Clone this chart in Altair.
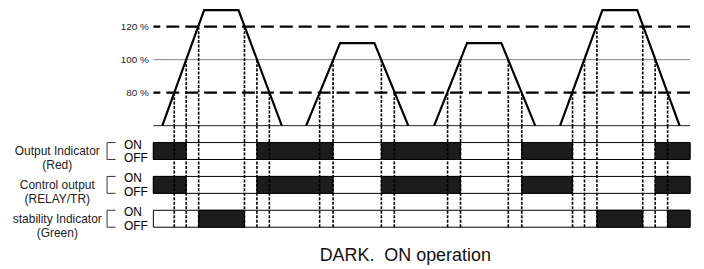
import altair as alt
import pandas as pd

# ---------------- data ----------------
# input waveform: four trapezoidal pulses (time, percent)
pulse_id = [1, 1, 1, 1, 2, 2, 2, 2, 3, 3, 3, 3, 4, 4, 4, 4]
wave_t = [9, 51, 85.5, 129, 153.5, 187.5, 222, 256, 282, 315, 349.5, 383.5, 408.5, 451, 486, 528.5]
wave_pct = [60, 130, 130, 60, 60, 110, 110, 60, 60, 110, 110, 60, 60, 130, 130, 60]

# threshold crossings marked by dotted guide lines (time, percent)
cross_t = [21, 33, 45.5, 91.5, 104, 116.5, 167, 180.5, 229, 242,
           295.5, 308.5, 356.5, 370, 421, 433, 445.5, 491.5, 504, 516.5]
cross_pct = [80, 100, 120, 120, 100, 80, 80, 100, 100, 80,
             80, 100, 100, 80, 80, 100, 120, 120, 100, 80]

dashed_pct = [120, 80]
solid_pct = [100]
base_pct = 60
top_pct = 130
tick_pct = [80, 100, 120]
t_end = 539

signal_names = ["Output Indicator", "Control output", "stability Indicator"]
signal_sub = ["(Red)", "(RELAY/TR)", "(Green)"]
on_start = [
    [0, 104, 229, 370, 504],
    [0, 104, 229, 370, 504],
    [45.5, 445.5, 516.5],
]
on_end = [
    [33, 180.5, 308.5, 421, 539],
    [33, 180.5, 308.5, 421, 539],
    [91.5, 491.5, 539],
]
state_labels = ["ON", "OFF"]
caption = "DARK.\u00a0\u00a0ON operation"

# ---------------- tables ----------------
n_rows = len(signal_names)
wave_df = pd.DataFrame({"pulse": pulse_id, "t": wave_t, "pct": wave_pct})
cross_df = pd.DataFrame({"t": cross_t, "pct": cross_pct})
cross_df["base"] = base_pct
cross_df["lv_top"] = 2 * n_rows
cross_df["lv_bot"] = 0
dashed_df = pd.DataFrame({"pct": dashed_pct})
solid_df = pd.DataFrame({"pct": solid_pct})
base_df = pd.DataFrame({"pct": [base_pct]})

rows = []
for i, (nm, sb) in enumerate(zip(signal_names, signal_sub)):
    on_lv = 2 * (n_rows - i) - 1
    rows.append({"name": nm + "\n" + sb, "on": on_lv, "off": on_lv - 1,
                 "mid": on_lv - 0.5, "t0": 0, "t1": t_end})
rows_df = pd.DataFrame(rows)

seg = []
for i in range(n_rows):
    for s, e in zip(on_start[i], on_end[i]):
        seg.append({"start": s, "end": e, "on": rows[i]["on"], "off": rows[i]["off"]})
seg_df = pd.DataFrame(seg)

lvl_rows = []
for r in rows:
    lvl_rows.append({"lvl": r["on"], "txt": state_labels[0]})
    lvl_rows.append({"lvl": r["off"], "txt": state_labels[1]})
lvl_df = pd.DataFrame(lvl_rows)
title_df = pd.DataFrame({"txt": [caption]})

# ---------------- scales ----------------
FONT = "Liberation Sans"
xs = alt.Scale(domain=[0, t_end], nice=False, zero=False)
ys_top = alt.Scale(domain=[base_pct, top_pct], nice=False, zero=False)
ys_bot = alt.Scale(domain=[0, 2 * n_rows], nice=False, zero=False)

y_axis = alt.Axis(values=tick_pct, labelExpr="datum.value + ' %'", domain=False,
                  ticks=False, grid=False, labelPadding=5, labelFontSize=10,
                  labelColor="#222222", labelFont=FONT, title=None)


def YT(field="pct"):
    return alt.Y(f"{field}:Q", scale=ys_top, axis=y_axis)


def XS(field):
    return alt.X(f"{field}:Q", scale=xs, axis=None)


def YB(field):
    return alt.Y(f"{field}:Q", scale=ys_bot, axis=None)


# ---------------- top panel ----------------
dashed = alt.Chart(dashed_df).mark_rule(
    strokeDash=[13, 6], strokeWidth=2.3, color="black").encode(y=YT())
solid = alt.Chart(solid_df).mark_rule(strokeWidth=1, color="#808080").encode(y=YT())
base = alt.Chart(base_df).mark_rule(strokeWidth=1, color="#222222").encode(y=YT())
guides_top = alt.Chart(cross_df).mark_rule(
    strokeDash=[3, 1.5], strokeWidth=1.6, color="black").encode(
    x=XS("t"), y=YT(), y2="base:Q")
wave = alt.Chart(wave_df).mark_line(color="black", strokeWidth=2.2).encode(
    x=XS("t"), y=YT(), detail="pulse:N")

top = alt.layer(dashed, solid, base, guides_top, wave).properties(width=t_end, height=116)

# ---------------- bottom panel ----------------
boxes = alt.Chart(rows_df).mark_rect(fill="white", stroke="black", strokeWidth=1).encode(
    x=XS("t0"), x2="t1:Q", y=YB("off"), y2="on:Q")
bars = alt.Chart(seg_df).mark_rect(fill="#1c1c1c", stroke="black", strokeWidth=1).encode(
    x=XS("start"), x2="end:Q", y=YB("off"), y2="on:Q")
guides_bot = alt.Chart(cross_df).mark_rule(
    strokeDash=[3, 1.5], strokeWidth=1.6, color="black").encode(
    x=XS("t"), y=YB("lv_top"), y2="lv_bot:Q")
on_txt = alt.Chart(lvl_df).transform_filter(f"datum.txt == '{state_labels[0]}'").mark_text(
    align="left", baseline="middle", fontSize=12, font=FONT, color="black", dy=2).encode(
    x=alt.value(-29.5), y=YB("lvl"), text="txt:N")
off_txt = alt.Chart(lvl_df).transform_filter(f"datum.txt == '{state_labels[1]}'").mark_text(
    align="left", baseline="middle", fontSize=12, font=FONT, color="black", dy=-1.5).encode(
    x=alt.value(-29.5), y=YB("lvl"), text="txt:N")
brk_v = alt.Chart(rows_df).mark_rule(color="#333333", strokeWidth=1).encode(
    x=alt.value(-46.5), y=YB("on"), y2="off:Q")
brk_h = alt.Chart(lvl_df).mark_rule(color="#333333", strokeWidth=1).encode(
    x=alt.value(-46.5), x2=alt.value(-38), y=YB("lvl"))
names = alt.Chart(rows_df).mark_text(
    align="center", baseline="middle", lineBreak="\n", lineHeight=14.5,
    fontSize=12, font=FONT, color="#222222").encode(
    x=alt.value(-96.5), y=YB("mid"), text="name:N")
title = alt.Chart(title_df).mark_text(
    align="center", baseline="alphabetic", fontSize=18, font=FONT, color="#111111").encode(
    x=alt.value(253), y=alt.value(136), text="txt:N")

bottom = alt.layer(boxes, bars, guides_bot, on_txt, off_txt, brk_v, brk_h, names, title).properties(
    width=t_end, height=102)

chart = alt.vconcat(top, bottom, spacing=0, bounds="flush").properties(
    padding={"left": 4, "top": -3.4, "right": 4, "bottom": 0}
).configure_view(stroke=None)

chart.save("out.html", embed_options={"renderer": "svg", "actions": False})
